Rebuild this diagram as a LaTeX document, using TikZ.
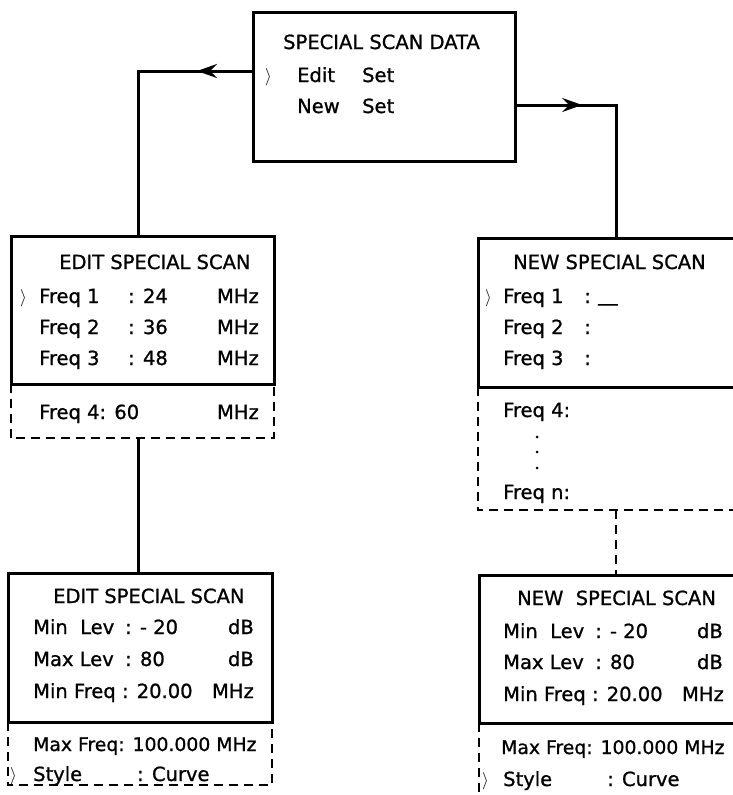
\documentclass[tikz,border=0pt]{standalone}
\usepackage{fontspec}
\setmainfont{DejaVu Sans}[FakeBold=1]
\usetikzlibrary{arrows.meta, calc}

\begin{document}
\begin{tikzpicture}[
        x=1pt, y=-1pt,
        panel/.style={draw, line width=3pt, inner sep=0pt},
        extpanel/.style={inner sep=0pt},
        dashline/.style={line width=2.4pt, dash pattern=on 9pt off 6pt},
        conn/.style={line width=3pt},
        head/.style={-{Stealth[length=20pt, width=14pt, inset=7pt]}},
        txt/.style={anchor=base west, inner sep=0pt, font=\fontsize{19.5}{21}\selectfont},
        longtxt/.style={txt, font=\fontsize{18.8}{21}\selectfont},
        unit/.style={txt, anchor=base east},
        ptr/.style={anchor=base west, inner sep=0pt, font=\fontsize{18}{18}\selectfont},
        dot/.style={fill, circle, inner sep=0pt, minimum size=3pt}
    ]
        \useasboundingbox (0,0) rectangle (733,795);
        \clip (0,0) rectangle (733,795);

        % Main menu
        \node[panel, minimum width=262pt, minimum height=149pt] (data) at (384,86.5) {};
        \node[txt] (dtitle) at (283,49) {SPECIAL SCAN DATA};
        \node[ptr] (dptr) at (265,81) {$\rangle$};
        \node[txt] (dedit) at (297,82) {Edit};
        \node[txt] (deset) at (362,82) {Set};
        \node[txt] (dnew) at (297,113) {New};
        \node[txt] (dnset) at (362,113) {Set};

        % Edit special scan, page 1
        \node[panel, minimum width=263pt, minimum height=148pt] (edit) at (142.5,310) {};
        \node[extpanel, minimum width=263pt, minimum height=54pt] (editx) at (142.5,411) {};
        \draw[dashline] (editx.north west) -- (editx.south west) -- (editx.south east) -- (editx.north east);
        \node[txt] (etitle) at (59,269) {EDIT SPECIAL SCAN};
        \node[ptr] (eptr) at (20,302) {$\rangle$};
        \node[txt] (ef1) at (39,303) {Freq 1};
        \node[txt] (ev1) at (128,303) {: 24};
        \node[unit] (eu1) at (259,303) {MHz};
        \node[txt] (ef2) at (39,334) {Freq 2};
        \node[txt] (ev2) at (128,334) {: 36};
        \node[unit] (eu2) at (259,334) {MHz};
        \node[txt] (ef3) at (39,365) {Freq 3};
        \node[txt] (ev3) at (128,365) {: 48};
        \node[unit] (eu3) at (259,365) {MHz};
        \node[txt] (ef4) at (39,419) {Freq 4: 60};
        \node[unit] (eu4) at (259,419) {MHz};

        % Edit special scan, page 2
        \node[panel, minimum width=264pt, minimum height=149pt] (edit2) at (140,647.5) {};
        \node[extpanel, minimum width=264pt, minimum height=63pt] (edit2x) at (140,753.5) {};
        \draw[dashline] (edit2x.north west) -- (edit2x.south west) -- (edit2x.south east) -- (edit2x.north east);
        \node[txt] (e2title) at (53,603) {EDIT SPECIAL SCAN};
        \node[txt] (e2min) at (33,634) {Min\ \ Lev};
        \node[txt] (e2minv) at (125,634) {: - 20};
        \node[unit] (e2minu) at (254,634) {dB};
        \node[txt] (e2max) at (33,666) {Max Lev};
        \node[txt] (e2maxv) at (125,666) {: 80};
        \node[unit] (e2maxu) at (254,666) {dB};
        \node[txt] (e2fmin) at (33,698) {Min Freq : 20.00};
        \node[unit] (e2fminu) at (254,698) {MHz};
        \node[longtxt] (e2fmax) at (33,751) {Max Freq: 100.000 MHz};
        \node[ptr] (e2ptr) at (10,780) {$\rangle$};
        \node[txt] (e2sty) at (33,781) {Style};
        \node[txt] (e2styv) at (137,781) {: Curve};

        % New special scan, page 1
        \node[panel, minimum width=276pt, minimum height=149pt] (new) at (616,312.5) {};
        \node[extpanel, minimum width=276pt, minimum height=123pt] (newx) at (616,448.5) {};
        \draw[dashline] (newx.north west) -- (newx.south west) -- (newx.south east) -- (newx.north east);
        \node[txt] (ntitle) at (513,269) {NEW SPECIAL SCAN};
        \node[ptr] (nptr) at (485,302) {$\rangle$};
        \node[txt] (nf1) at (503,303) {Freq 1};
        \node[txt] (nv1) at (584,303) {:};
        \node[txt] (ncur) at (598,301) {\_\_};
        \node[txt] (nf2) at (503,334) {Freq 2};
        \node[txt] (nv2) at (584,334) {:};
        \node[txt] (nf3) at (503,365) {Freq 3};
        \node[txt] (nv3) at (584,365) {:};
        \node[txt] (nf4) at (503,417) {Freq 4:};
        \foreach \y [count=\i] in {437,452,468}
            \node[dot] (ndot\i) at (537,\y) {};
        \node[txt] (nfn) at (503,499) {Freq n:};

        % New special scan, page 2
        \node[panel, minimum width=274pt, minimum height=148pt] (new2) at (616,649) {};
        \node[extpanel, minimum width=274pt, minimum height=110pt] (new2x) at (616,778) {};
        \draw[dashline] (new2x.north west) -- (new2x.south west) -- (new2x.south east) -- (new2x.north east);
        \node[txt] (n2title) at (517,605) {NEW\ \ SPECIAL SCAN};
        \node[txt] (n2min) at (503,638) {Min\ \ Lev};
        \node[txt] (n2minv) at (595,638) {: - 20};
        \node[unit] (n2minu) at (723,638) {dB};
        \node[txt] (n2max) at (503,669) {Max Lev};
        \node[txt] (n2maxv) at (595,669) {: 80};
        \node[unit] (n2maxu) at (723,669) {dB};
        \node[txt] (n2fmin) at (503,701) {Min Freq : 20.00};
        \node[unit] (n2fminu) at (724,701) {MHz};
        \node[longtxt] (n2fmax) at (501,754) {Max Freq: 100.000 MHz};
        \node[ptr] (n2ptr) at (482,785) {$\rangle$};
        \node[txt] (n2sty) at (503,786) {Style};
        \node[txt] (n2styv) at (607,786) {: Curve};

        % Connectors
        \coordinate (eset) at (data.west |- 0,71);
        \coordinate (nset) at (data.east |- 0,105);
        \draw[conn] (eset) -| ([xshift=-4.5pt]edit.north);
        \draw[conn, head] (eset) -- ($(eset)!.5!(eset -| edit.north)$);
        \draw[conn] (nset) -| (new.north);
        \draw[conn, head] (nset) -- ($(nset)!.66!(nset -| new.north)$);
        \draw[conn] ([xshift=-4.5pt]editx.south) -- ([xshift=-2pt]edit2.north);
        \draw[dashline] (newx.south) -- (new2.north);
    \end{tikzpicture}
\end{document}
